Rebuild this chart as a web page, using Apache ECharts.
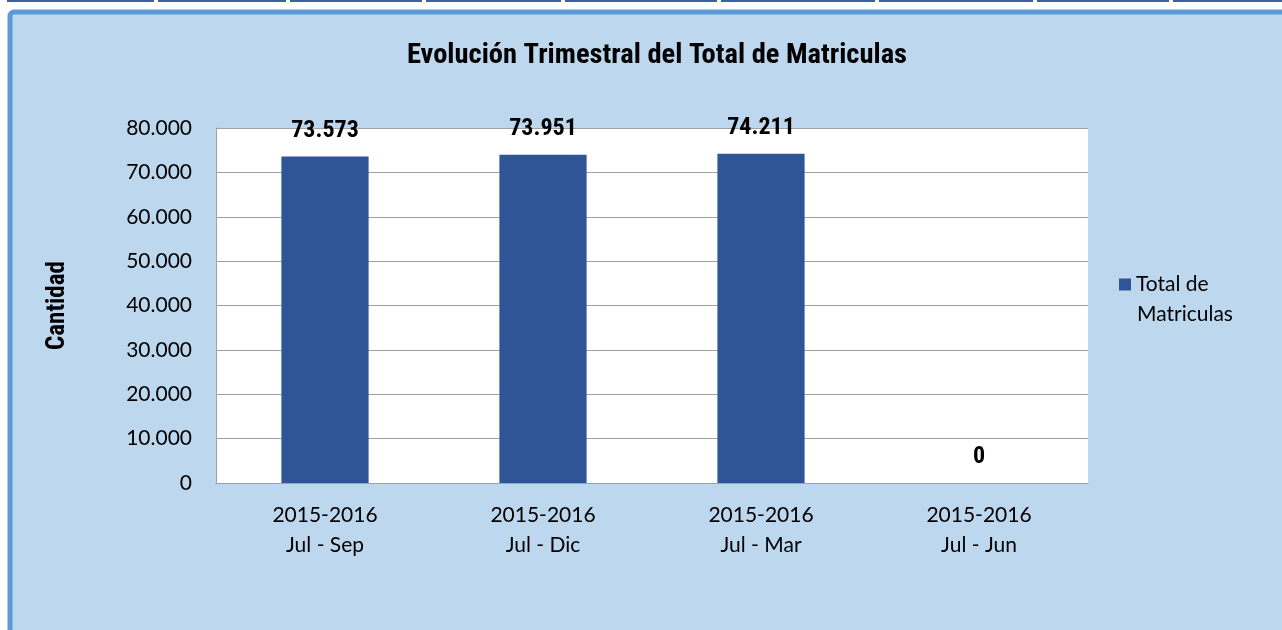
<!DOCTYPE html>
<html>
<head>
<meta charset="utf-8">
<script src="https://cdn.jsdelivr.net/npm/echarts@6/dist/echarts.min.js"></script>
<style>
  html, body { margin: 0; padding: 0; background: #fff; }
  #chart { width: 1282px; height: 630px; }
</style>
</head>
<body>
<div id="chart"></div>
<script>
// datos
var periodos = ['2015-2016\nJul - Sep', '2015-2016\nJul - Dic', '2015-2016\nJul - Mar', '2015-2016\nJul - Jun'];
var totalMatriculas = [73573, 73951, 74211, 0];
var ejeMin = 0, ejeMax = 80000, ejeIntervalo = 10000;

// bordes de la tabla de arriba
var cortes = [7, 158, 290, 426, 565, 721, 879, 1037, 1173];

var narrow = '"Liberation Sans Narrow", "Arial Narrow", "Roboto Condensed", sans-serif';
var normal = 'Lato, "Open Sans", sans-serif';

function miles(v) {
    return String(v).replace(/\B(?=(\d{3})+(?!\d))/g, '.');
}

var decor = [];
for (var i = 0; i < cortes.length; i++) {
    var x0 = cortes[i];
    var x1 = i < cortes.length - 1 ? cortes[i + 1] - 4 : 1282;
    decor.push({ type: 'rect', shape: { x: x0, y: 0, width: x1 - x0, height: 2 }, style: { fill: '#3a6496' }, silent: true });
}
decor.push({
    type: 'rect', z: -10,
    shape: { x: 10, y: 12, width: 1290, height: 640, r: 4 },
    style: { fill: '#bdd7ee', stroke: '#5b9bd5', lineWidth: 5 },
    silent: true
});
// segunda linea de la leyenda
decor.push({
    type: 'text', left: 1137, top: 304,
    style: { text: 'Matriculas', fontFamily: normal, fontSize: 21, fill: '#000' },
    silent: true
});

var chart = echarts.init(document.getElementById('chart'));
chart.setOption({
    backgroundColor: '#fff',
    animation: false,
    graphic: decor,
    title: {
        text: 'Evolución Trimestral del Total de Matriculas',
        left: 652, top: 36, textAlign: 'center',
        textStyle: { fontFamily: narrow, fontWeight: 'bold', fontSize: 28.5, color: '#000' }
    },
    legend: {
        orient: 'vertical',
        left: 1119, top: 274,
        padding: 0,
        itemWidth: 12, itemHeight: 12, itemGap: 6,
        icon: 'rect',
        data: ['Total de Matriculas'],
        formatter: function () { return 'Total de'; },
        textStyle: { fontFamily: normal, fontSize: 21, color: '#000' }
    },
    grid: { left: 216, right: 194, top: 128, bottom: 147, backgroundColor: '#fff', show: true, borderWidth: 0 },
    xAxis: {
        type: 'category',
        data: periodos,
        axisLine: { lineStyle: { color: '#a0a0a0', width: 1 } },
        axisTick: { show: false },
        axisLabel: { fontFamily: normal, fontSize: 21, color: '#000', lineHeight: 30, margin: 17 }
    },
    yAxis: {
        type: 'value',
        min: ejeMin, max: ejeMax, interval: ejeIntervalo,
        name: 'Cantidad',
        nameLocation: 'middle',
        nameGap: 146,
        nameRotate: 90,
        nameTextStyle: { fontFamily: narrow, fontWeight: 'bold', fontSize: 25, color: '#000' },
        axisLine: { show: true, lineStyle: { color: '#a0a0a0' } },
        axisTick: { show: false },
        splitLine: { lineStyle: { color: '#a0a0a0' } },
        axisLabel: { fontFamily: normal, fontSize: 21, color: '#000', margin: 24, formatter: miles }
    },
    series: [{
        name: 'Total de Matriculas',
        type: 'bar',
        data: totalMatriculas,
        barWidth: '40%',
        itemStyle: { color: '#2f5597' },
        label: {
            show: true, position: 'top', distance: 14,
            fontFamily: narrow, fontWeight: 'bold', fontSize: 24, color: '#000',
            formatter: function (p) { return miles(p.value); }
        }
    }]
});
</script>
</body>
</html>
